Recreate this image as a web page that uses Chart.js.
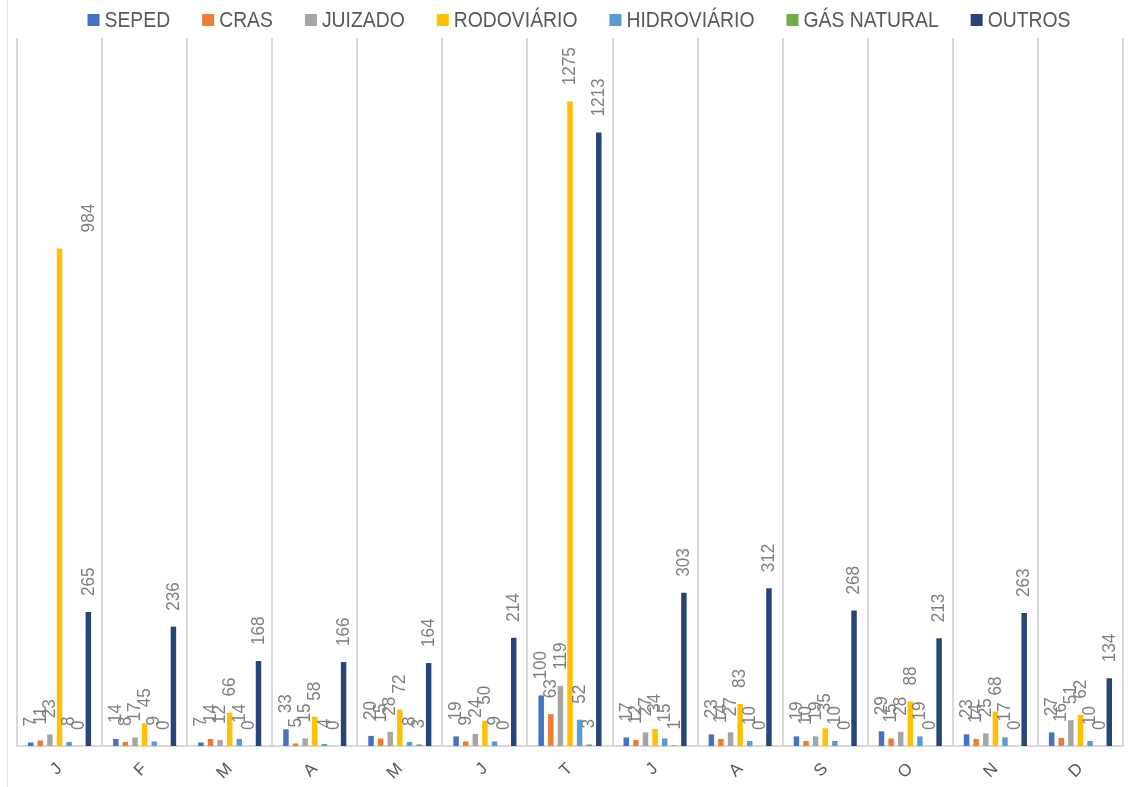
<!DOCTYPE html>
<html lang="pt-BR">
<head>
<meta charset="utf-8">
<title>Atendimentos por mês</title>
<script src="https://cdn.jsdelivr.net/npm/chart.js@4.4.1/dist/chart.umd.min.js"></script>
<style>
  html, body { margin: 0; padding: 0; background: #ffffff; }
  #wrap { position: relative; width: 1132px; height: 787px; }
  #edge { position: absolute; left: 7px; top: 0; width: 1px; height: 787px; background: #e3e3e3; }
  canvas { position: absolute; left: 0; top: 0; }
</style>
</head>
<body>
<div id="wrap">
  <canvas id="chart" width="1132" height="787"></canvas>
  <div id="edge"></div>
</div>
<script>
// Meses (iniciais)
const months = ['J', 'F', 'M', 'A', 'M', 'J', 'T', 'J', 'A', 'S', 'O', 'N', 'D'];

// Atendimentos por origem
const seped       = [7, 14, 7, 33, 20, 19, 100, 17, 23, 19, 29, 23, 27];
const cras        = [11, 8, 14, 5, 15, 9, 63, 12, 14, 10, 15, 14, 16];
const juizado     = [23, 17, 12, 15, 28, 24, 119, 27, 27, 19, 28, 25, 51];
const rodoviario  = [984, 45, 66, 58, 72, 50, 1275, 34, 83, 35, 88, 68, 62];
const hidroviario = [8, 9, 14, 4, 8, 9, 52, 15, 10, 10, 19, 17, 10];
const gasNatural  = [0, 0, 0, 0, 3, 0, 3, 1, 0, 0, 0, 0, 0];
const outros      = [265, 236, 168, 166, 164, 214, 1213, 303, 312, 268, 213, 263, 134];

const seriesNames = ['SEPED', 'CRAS', 'JUIZADO', 'RODOVIÁRIO', 'HIDROVIÁRIO', 'GÁS NATURAL', 'OUTROS'];
const seriesValues = [seped, cras, juizado, rodoviario, hidroviario, gasNatural, outros];
const seriesColors = ['#4472C4', '#ED7D31', '#A5A5A5', '#FFC000', '#5B9BD5', '#70AD47', '#264478'];

// Texto condensado: desenha com escala horizontal reduzida
function narrowText(ctx, text, x, y, squeeze) {
  ctx.save();
  ctx.translate(x, y);
  ctx.scale(squeeze, 1);
  ctx.fillText(text, 0, 0);
  ctx.restore();
}

// Rótulo deslocado manualmente (série RODOVIÁRIO, janeiro)
function labelShiftX(datasetIndex, index) {
  return (datasetIndex === 3 && index === 0) ? 29 : 0;
}

// Rótulos de valor verticais acima de cada barra
const valueLabels = {
  id: 'valueLabels',
  afterDatasetsDraw(chart) {
    const ctx = chart.ctx;
    ctx.save();
    ctx.font = '19px "Liberation Sans", Arial, sans-serif';
    ctx.fillStyle = '#7f7f7f';
    ctx.textAlign = 'left';
    ctx.textBaseline = 'middle';
    chart.data.datasets.forEach((ds, di) => {
      const meta = chart.getDatasetMeta(di);
      if (meta.hidden) return;
      meta.data.forEach((bar, i) => {
        ctx.save();
        ctx.translate(bar.x + labelShiftX(di, i), bar.y - 16);
        ctx.rotate(-Math.PI / 2);
        narrowText(ctx, String(ds.data[i]), 0, 0, 0.9);
        ctx.restore();
      });
    });
    ctx.restore();
  }
};

// Legenda superior em uma linha, centrada
const topLegend = {
  id: 'topLegend',
  afterDraw(chart) {
    const ctx = chart.ctx;
    const box = 12, gap = 5, itemGap = 32, squeeze = 0.88, centerX = 579, midY = 20;
    ctx.save();
    ctx.font = '22px "Liberation Sans", Arial, sans-serif';
    ctx.textBaseline = 'middle';
    ctx.textAlign = 'left';
    const items = chart.data.datasets.map(ds => ({
      text: ds.label,
      color: ds.backgroundColor,
      w: ctx.measureText(ds.label).width * squeeze
    }));
    const total = items.reduce((s, it) => s + box + gap + it.w, 0) + itemGap * (items.length - 1);
    let x = centerX - total / 2;
    items.forEach(it => {
      ctx.fillStyle = it.color;
      ctx.fillRect(x, midY - box / 2, box, box);
      ctx.fillStyle = '#595959';
      narrowText(ctx, it.text, x + box + gap, midY + 1, squeeze);
      x += box + gap + it.w + itemGap;
    });
    ctx.restore();
  }
};

new Chart(document.getElementById('chart'), {
  type: 'bar',
  data: {
    labels: months,
    datasets: seriesNames.map((name, k) => ({
      label: name,
      data: seriesValues[k],
      backgroundColor: seriesColors[k],
      borderWidth: 0,
      barPercentage: 0.57,
      categoryPercentage: 0.79
    }))
  },
  options: {
    responsive: false,
    animation: false,
    layout: { padding: { left: 17, right: 9, top: 38, bottom: 0 } },
    plugins: {
      legend: { display: false },
      tooltip: { enabled: false }
    },
    scales: {
      x: {
        grid: {
          display: true,
          color: '#d9d9d9',
          lineWidth: 2,
          offset: true,
          drawTicks: false
        },
        border: { display: true, color: '#d9d9d9', width: 2 },
        ticks: {
          color: '#595959',
          font: { family: '"Liberation Sans", Arial, sans-serif', size: 17 },
          minRotation: 45,
          maxRotation: 45,
          padding: 13
        },
        afterFit(scale) { scale.height = 41; }
      },
      y: {
        display: false,
        min: 0,
        max: 1400
      }
    }
  },
  plugins: [valueLabels, topLegend]
});
</script>
</body>
</html>
